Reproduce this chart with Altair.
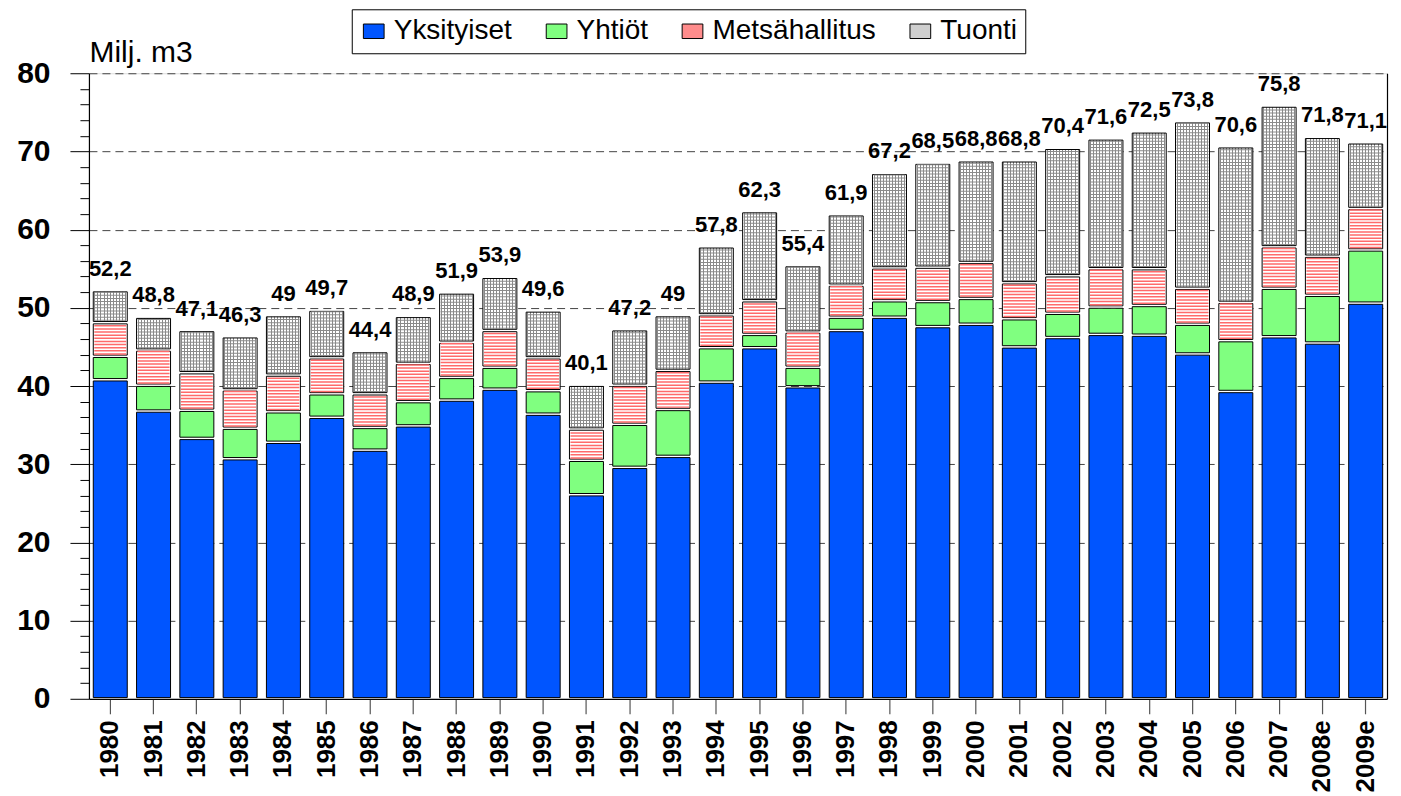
import altair as alt
import pandas as pd

# ---------------- data ----------------
years = ["1980", "1981", "1982", "1983", "1984", "1985", "1986", "1987", "1988", "1989",
         "1990", "1991", "1992", "1993", "1994", "1995", "1996", "1997", "1998", "1999",
         "2000", "2001", "2002", "2003", "2004", "2005", "2006", "2007", "2008e", "2009e"]
totals = [52.2, 48.8, 47.1, 46.3, 49, 49.7, 44.4, 48.9, 51.9, 53.9,
          49.6, 40.1, 47.2, 49, 57.8, 62.3, 55.4, 61.9, 67.2, 68.5,
          68.8, 68.8, 70.4, 71.6, 72.5, 73.8, 70.6, 75.8, 71.8, 71.1]
yksityiset = [40.8, 36.8, 33.3, 30.7, 32.8, 36.0, 31.8, 34.9, 38.2, 39.6,
              36.4, 26.1, 29.6, 31.0, 40.5, 44.9, 39.9, 47.1, 48.8, 47.6,
              47.9, 45.0, 46.2, 46.6, 46.5, 44.1, 39.3, 46.3, 45.5, 50.6]
yhtiot = [3.0, 3.3, 3.6, 3.9, 3.9, 3.0, 2.9, 3.1, 2.9, 2.8,
          3.0, 4.4, 5.5, 6.0, 4.4, 1.7, 2.5, 1.7, 2.1, 3.2,
          3.3, 3.6, 3.1, 3.5, 3.8, 3.8, 6.5, 6.2, 6.1, 6.8]
metsahallitus = [4.3, 4.5, 4.8, 4.9, 4.7, 4.6, 4.3, 4.9, 4.5, 4.7,
                 4.2, 4.0, 5.0, 5.0, 4.2, 4.3, 4.5, 4.1, 4.2, 4.4,
                 4.6, 4.6, 4.8, 4.9, 4.7, 4.6, 4.9, 5.3, 5.0, 5.3]
tuonti = [4.1, 4.2, 5.4, 6.8, 7.6, 6.1, 5.4, 6.0, 6.3, 6.8,
          6.0, 5.6, 7.1, 7.0, 8.7, 11.4, 8.5, 9.0, 12.1, 13.3,
          13.0, 15.6, 16.3, 16.6, 17.5, 21.3, 19.9, 18.0, 15.2, 8.4]
series_names = ["Yksityiset", "Yhtiöt", "Metsähallitus", "Tuonti"]
y_ticks = list(range(0, 81, 2))

# ---------------- tables for the library ----------------
series_values = [yksityiset, yhtiot, metsahallitus, tuonti]
rows = []
for k, (name, vals) in enumerate(zip(series_names, series_values)):
    for yr, v in zip(years, vals):
        rows.append({"year": yr, "series": name, "order": k, "value": v})
long_df = pd.DataFrame(rows)
labels_df = pd.DataFrame({
    "year": years,
    "total": totals,
    "label": [f"{t:g}".replace(".", ",") for t in totals],
})

# ---------------- styling ----------------
FONT = "Liberation Sans"
W, H = 1299, 626
legend_colors = ["#0055ff", "#80ff80", "#ff8c8c", "#cfcfcf"]
stripe_red = "#ff6a6a"
grid_gray = "#8a8a8a"

y_scale = alt.Scale(domain=[0, 80], nice=False, zero=True)
x_scale = alt.Scale(paddingInner=0.215, paddingOuter=0.1)

x_axis = alt.Axis(
    title=None, labelAngle=-90, labelAlign="right", labelBaseline="middle",
    labelFont=FONT, labelFontSize=26, labelFontWeight="bold", labelColor="black",
    labelPadding=6, tickSize=15, tickColor="#555555", tickWidth=1.2,
    domainColor="black", domainWidth=1.2, grid=False,
)
y_axis_left = alt.Axis(
    values=y_ticks, orient="left",
    labelExpr="datum.value % 10 === 0 ? datum.label : ''",
    labelFont=FONT, labelFontSize=30, labelFontWeight="bold", labelColor="black",
    labelPadding=20,
    tickSize={"condition": {"test": "datum.value % 10 === 0", "value": 19}, "value": 9},
    tickColor="black", tickWidth=1,
    domainColor="black", domainWidth=1.2,
    grid=True, gridColor="#444444", gridDash=[8, 5], gridWidth=1,
    gridOpacity={"condition": {"test": "datum.value % 10 === 0 && datum.value > 0", "value": 1}, "value": 0},
    title="Milj. m3", titleAngle=0, titleAlign="left", titleBaseline="alphabetic",
    titleX=0, titleY=-12, titleFont=FONT, titleFontSize=30, titleFontWeight="normal",
    titleColor="black",
)
y_axis_right = alt.Axis(
    orient="right", labels=False, ticks=False, grid=False, title=None,
    domain=True, domainColor="black", domainWidth=1.2,
)

X = alt.X("year:N", sort=years, scale=x_scale, axis=x_axis)

# vertical-line gradient for the import (Tuonti) grid pattern
n_lines = 11
half = 0.5 / 34
stops = [alt.GradientStop(offset=0, color="white")]
for i in range(n_lines):
    c = (i + 0.5) / n_lines
    stops += [
        alt.GradientStop(offset=c - half, color="white"),
        alt.GradientStop(offset=c - half, color=grid_gray),
        alt.GradientStop(offset=c + half, color=grid_gray),
        alt.GradientStop(offset=c + half, color="white"),
    ]
stops.append(alt.GradientStop(offset=1, color="white"))
tuonti_fill = alt.LinearGradient(gradient="linear", stops=stops, x1=0, x2=1, y1=0, y2=0)

base = alt.Chart(long_df).transform_stack(
    stack="value", groupby=["year"], as_=["lo", "hi"],
    sort=[alt.SortField("order", order="ascending")],
)

bar_kw = dict(stroke="black", strokeWidth=1, yOffset=1.2, y2Offset=-1.2)

solid = base.transform_filter(alt.datum.order <= 1).mark_bar(**bar_kw).encode(
    x=X,
    y=alt.Y("hi:Q", scale=y_scale, axis=y_axis_left),
    y2="lo:Q",
    color=alt.Color(
        "series:N",
        scale=alt.Scale(domain=series_names, range=legend_colors),
        legend=alt.Legend(
            title=None, orient="none", legendX=263, legendY=-64,
            direction="horizontal", columns=4,
            symbolType="M-1,-0.7H1V0.7H-1Z", symbolSize=430,
            symbolStrokeColor="black", symbolStrokeWidth=1, symbolOpacity=1,
            labelFont=FONT, labelFontSize=28, labelColor="black", labelLimit=400,
            labelOffset=6, columnPadding=30,
            strokeColor="black", fillColor="white", padding=8,
        ),
    ),
)

red_bars = base.transform_filter(alt.datum.order == 2).mark_bar(fill="white", **bar_kw).encode(
    x=X,
    y=alt.Y("hi:Q", scale=y_scale, axis=None),
    y2="lo:Q",
)

tuonti_bars = base.transform_filter(alt.datum.order == 3).mark_bar(fill=tuonti_fill, **bar_kw).encode(
    x=X,
    y=alt.Y("hi:Q", scale=y_scale, axis=None),
    y2="lo:Q",
)

red_lines = (
    base.transform_filter(alt.datum.order == 2)
    .transform_calculate(line="sequence(datum.lo + 0.3, datum.hi - 0.15, 0.4)")
    .transform_flatten(["line"])
    .mark_tick(color=stripe_red, thickness=1.5, size=32, opacity=1)
    .encode(x=X, y=alt.Y("line:Q", scale=y_scale, axis=None))
)

tuonti_lines = (
    base.transform_filter(alt.datum.order == 3)
    .transform_calculate(line="sequence(datum.lo + 0.3, datum.hi - 0.15, 0.4)")
    .transform_flatten(["line"])
    .mark_tick(color=grid_gray, thickness=1, size=32, opacity=1)
    .encode(x=X, y=alt.Y("line:Q", scale=y_scale, axis=None))
)

text = alt.Chart(labels_df).mark_text(
    font=FONT, fontSize=22, fontWeight="bold", dy=-15, baseline="alphabetic",
    align="center", color="black",
).encode(
    x=X,
    y=alt.Y("total:Q", scale=y_scale, axis=y_axis_right),
    text="label:N",
)

chart = (
    alt.layer(solid, red_bars, tuonti_bars, red_lines, tuonti_lines, text)
    .resolve_axis(y="independent")
    .properties(width=W, height=H, padding={"left": 8, "top": 0, "right": 5, "bottom": 5})
    .configure_view(stroke=None)
    .configure(background="white")
)

chart.save("out.html", embed_options={"renderer": "svg", "actions": False})
